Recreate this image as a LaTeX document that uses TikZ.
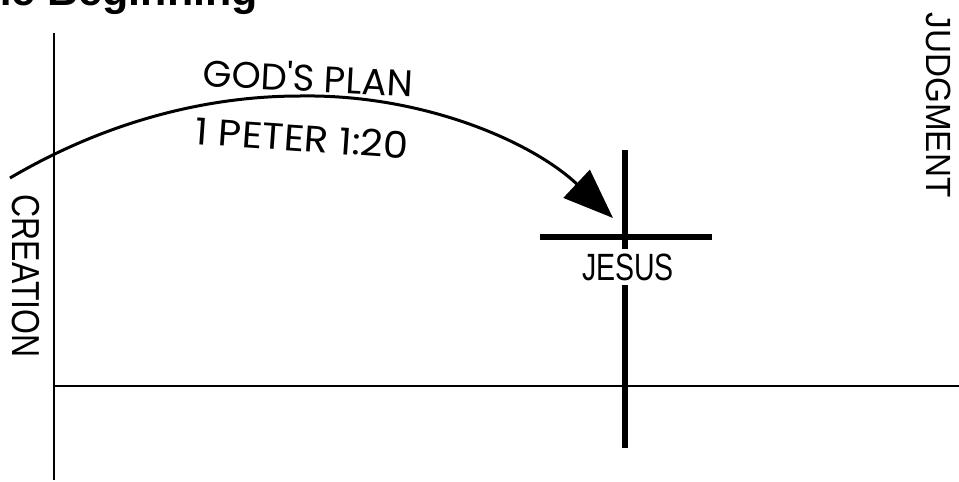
\documentclass[tikz,border=0pt]{standalone}
\usepackage{fontspec}
\setmainfont{Liberation Sans}
\newfontfamily\geofont{Poppins}
\usetikzlibrary{arrows.meta}
\begin{document}
\begin{tikzpicture}[x=1pt,y=-1pt,
  axis/.style={line width=2pt,black},
  baseln/.style={line width=2.5pt,black},
  crossln/.style={line width=6pt,black},
  plan/.style={line width=3pt,black,-{Triangle[length=50pt,width=38pt]}},
  lbl/.style={inner sep=0pt,font=\fontsize{38}{42}\selectfont},
  geo/.style={inner sep=0pt,font=\geofont\fontsize{37}{40}\selectfont}]
\useasboundingbox (0,0) rectangle (959,482);
% title (cut off at top)
\node[inner sep=0pt,anchor=base east,font=\bfseries\fontsize{43}{47}\selectfont] (title) at (258,5) {The Beginning};
% axes
\coordinate (axTop) at (54,33);
\coordinate (axBot) at (54,480);
\coordinate (blL) at (54,386);
\coordinate (blR) at (959,386);
\draw[axis] (axTop) -- (axBot);
\draw[baseln] (blL) -- (blR);
% cross
\coordinate (crTop) at (625,150);
\coordinate (crBot) at (625,448);
\coordinate (barL) at (540,237);
\coordinate (barR) at (712,237);
\draw[crossln] (crTop) -- (crBot);
\draw[crossln] (barL) -- (barR);
\node[lbl,fill=white,inner ysep=5pt,inner xsep=2pt,xscale=0.75] (jesus) at (628,267) {JESUS};
% arc
\coordinate (arcStart) at (10,178);
\coordinate (arcPeak) at (300,96);
\coordinate (arcTip) at (613,218);
\draw[plan] (arcStart) .. controls (100,125) and (200,96) .. (arcPeak)
  .. controls (420,94) and (530,140) .. (arcTip);
\node[geo,rotate=-3] (godsplan) at (308,77) {GOD'S PLAN};
\node[geo,rotate=-4,xscale=1.08] (peter) at (302,138) {1 PETER 1:20};
% side labels
\node[lbl,rotate=-90,xscale=0.82,font=\fontsize{39}{42}\selectfont] (creation) at (26,276) {CREATION};
\node[lbl,rotate=-90,xscale=0.95,font=\fontsize{35}{38}\selectfont] (judgment) at (939,105) {JUDGMENT};
\end{tikzpicture}
\end{document}
